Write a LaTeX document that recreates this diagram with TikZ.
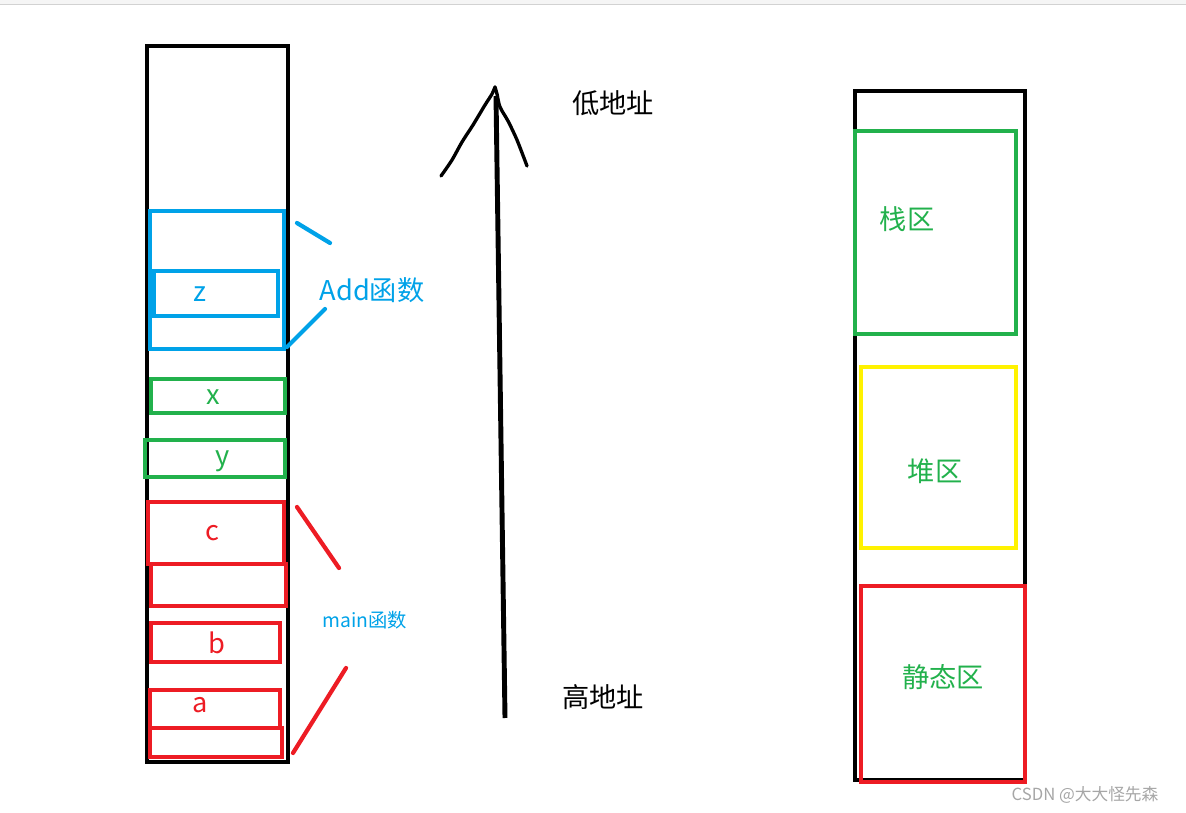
\documentclass[tikz,border=0pt]{standalone}
\usepackage{fontspec}
\newfontfamily\cjk{Noto Sans CJK SC}
\definecolor{paintblue}{RGB}{0,162,232}
\definecolor{paintgreen}{RGB}{34,177,76}
\definecolor{paintred}{RGB}{237,28,36}
\definecolor{paintyellow}{RGB}{255,242,0}
\begin{document}
\begin{tikzpicture}[x=0.02cm,y=-0.02cm,every node/.style={outer sep=0pt,inner sep=0pt},
 column/.style={draw=black,line width=2.7pt},
 cell/.style={line width=2.5pt},
 tick/.style={line width=2.4pt,line cap=round},
 stroke/.style={line width=1.9pt,line cap=round,line join=round},
 big/.style={font=\cjk\fontsize{15.5}{18}\selectfont},
 small/.style={font=\cjk\fontsize{11}{13}\selectfont}]

\useasboundingbox (0,0) rectangle (1186,813);
\fill[gray!8] (0,0) rectangle (1186,4);
\draw[gray!35,line width=0.6pt] (0,4.5) -- (1186,4.5);

% left stack
\draw[column] (147,46) rectangle (288,762);

\draw[cell,paintblue] (150,211) rectangle (284,349);
\draw[cell,paintblue] (154,271) rectangle (278,316);
\node[big,paintblue] (z) at (200,294) {z};
\draw[tick,paintblue] (297,223) -- (330,243);
\draw[tick,paintblue] (287,347) -- (325,309);
\node[big,paintblue] (add) at (372,290) {Add函数};

\draw[cell,paintgreen] (151,379) rectangle (285,413);
\node[big,paintgreen] (x) at (213,397) {x};
\draw[cell,paintgreen] (145,440) rectangle (285,477);
\node[big,paintgreen] (y) at (223,461) {y};

\draw[cell,paintred] (148,502) rectangle (284,564);
\node[big,paintred] (c) at (212,533) {c};
\draw[cell,paintred] (151,564) rectangle (286,606);
\draw[cell,paintred] (151,623) rectangle (280,662);
\node[big,paintred] (b) at (217,643) {b};
\draw[cell,paintred] (150,690) rectangle (280,728);
\node[big,paintred] (a) at (200,705) {a};
\draw[cell,paintred] (150,728) rectangle (282,757);
\draw[tick,paintred] (297,507) -- (339,568);
\draw[tick,paintred] (346,668) -- (293,753);
\node[small,paintblue] (main) at (365,620) {main函数};

% address arrow
\coordinate (high) at (505,718);
\coordinate (low) at (496,96);
\draw[line width=2.8pt] (high) -- (low);
\draw[stroke] plot[smooth] coordinates {(441,176) (452,160) (462,142) (473,125) (485,105) (492,94) (495,87)};
\draw[stroke] plot[smooth] coordinates {(495,87) (497,94) (500,107) (508,121) (517,140) (527,166)};
\node[big] (lowtxt) at (613,103) {低地址};
\node[big] (hightxt) at (603,697) {高地址};

% right memory map
\draw[column] (855,91) rectangle (1025,780);
\draw[cell,paintgreen] (855,131) rectangle (1016,334);
\node[big,paintgreen] (stack) at (907,219) {栈区};
\draw[cell,paintyellow] (861,367) rectangle (1016,548);
\node[big,paintgreen] (heap) at (935,471) {堆区};
\draw[cell,paintred] (861,586) rectangle (1025,782);
\node[big,paintgreen] (static) at (943,677) {静态区};

\node[font=\cjk\fontsize{9.5}{11}\selectfont,gray!70] (mark) at (1085,795) {CSDN @大大怪先森};

\end{tikzpicture}
\end{document}
